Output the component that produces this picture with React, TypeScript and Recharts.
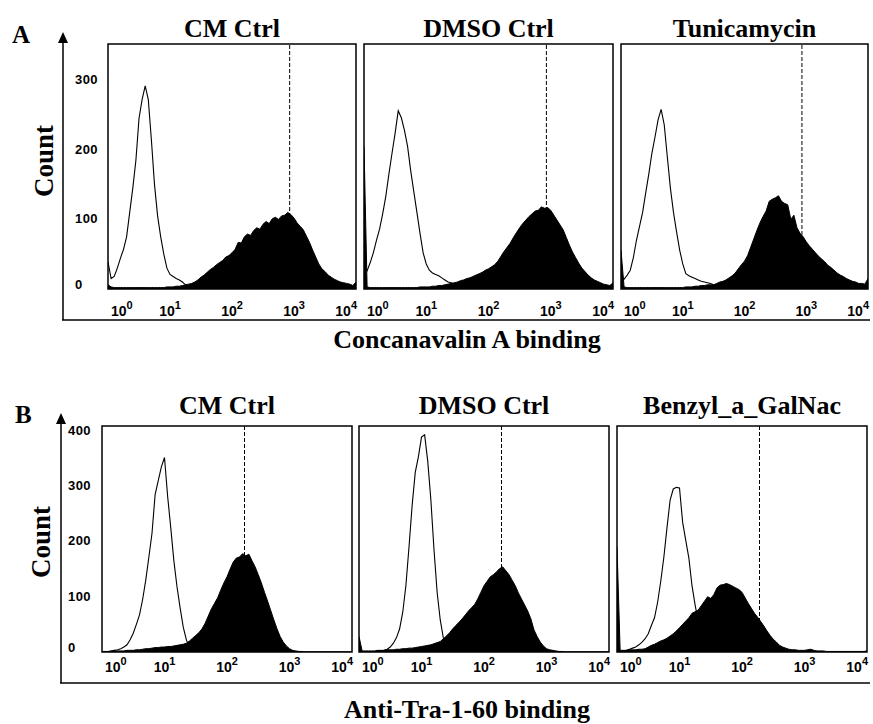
import React from 'react';
import { ComposedChart, Area, Line, XAxis, YAxis, ReferenceLine, ReferenceArea } from 'recharts';

// channel grid: log10 of fluorescence, 0.05 decade steps from 10^0 to 10^4
const LOG_X = Array.from({ length: 81 }, (_, i) => Math.round(i * 5) / 100);
const X_TICKS = [0, 1, 2, 3, 4];
const Y_TICKS_A = [0, 100, 200, 300];
const Y_TICKS_B = [0, 100, 200, 300, 400];

const TITLES_A = ['CM Ctrl', 'DMSO Ctrl', 'Tunicamycin'];
const TITLES_B = ['CM Ctrl', 'DMSO Ctrl', 'Benzyl_a_GalNac'];

// reference lines (log10 of the control MFI)
const MARKER_A = 2.93;
const MARKER_B = 2.28;

// ---- A: Concanavalin A binding ----
const conA_cm_open = [
  39, 15, 18, 30, 44, 57, 75, 110, 145, 185,
  245, 272, 292, 272, 214, 150, 105, 75, 50, 30,
  21, 18, 15, 13, 10, 6, 4, 2, 1, 1,
  0, 0, 0, 0, 0, 0, 0, 0, 0, 0,
  0, 0, 0, 0, 0, 0, 0, 0, 0, 0,
  0, 0, 0, 0, 0, 0, 0, 0, 0, 0,
  0, 0, 0, 0, 0, 0, 0, 0, 0, 0,
  0, 0, 0, 0, 0, 0, 0, 0, 0, 0,
  0,
];
const conA_cm_fill = [
  6, 3, 2, 2, 2, 2, 2, 2, 2, 2,
  2, 2, 2, 2, 2, 2, 2, 2, 2, 3,
  3, 3, 4, 4, 5, 6, 7, 8, 10, 13,
  17, 20, 24, 28, 31, 35, 38, 41, 46, 48,
  52, 57, 67, 66, 75, 79, 77, 84, 88, 86,
  93, 97, 94, 101, 103, 100, 105, 106, 110, 107,
  102, 95, 90, 85, 76, 67, 56, 46, 36, 29,
  25, 20, 17, 14, 12, 10, 9, 8, 7, 5,
  10,
];
const conA_dmso_open = [
  30, 26, 38, 52, 70, 86, 108, 133, 165, 195,
  224, 256, 246, 228, 205, 170, 140, 110, 80, 52,
  36, 27, 23, 21, 19, 16, 13, 10, 9, 7,
  4, 2, 1, 0, 0, 0, 0, 0, 0, 0,
  0, 0, 0, 0, 0, 0, 0, 0, 0, 0,
  0, 0, 0, 0, 0, 0, 0, 0, 0, 0,
  0, 0, 0, 0, 0, 0, 0, 0, 0, 0,
  0, 0, 0, 0, 0, 0, 0, 0, 0, 0,
  0,
];
const conA_dmso_fill = [
  205, 3, 2, 2, 2, 2, 2, 2, 2, 2,
  2, 2, 2, 2, 2, 2, 2, 2, 3, 3,
  3, 3, 4, 4, 5, 5, 6, 7, 8, 9,
  10, 12, 13, 15, 16, 18, 20, 22, 24, 27,
  29, 32, 35, 40, 47, 54, 60, 66, 74, 81,
  88, 94, 99, 104, 108, 112, 113, 118, 116, 117,
  113, 106, 99, 92, 85, 74, 63, 53, 45, 37,
  30, 25, 20, 16, 13, 11, 9, 7, 6, 5,
  9,
];
const conA_tuni_open = [
  18, 14, 20, 27, 45, 70, 90, 110, 138, 165,
  195, 218, 243, 258, 236, 190, 145, 110, 82, 56,
  36, 22, 19, 17, 15, 13, 11, 10, 9, 8,
  6, 4, 2, 1, 0, 0, 0, 0, 0, 0,
  0, 0, 0, 0, 0, 0, 0, 0, 0, 0,
  0, 0, 0, 0, 0, 0, 0, 0, 0, 0,
  0, 0, 0, 0, 0, 0, 0, 0, 0, 0,
  0, 0, 0, 0, 0, 0, 0, 0, 0, 0,
  0,
];
const conA_tuni_fill = [
  56, 3, 2, 2, 2, 2, 2, 2, 2, 2,
  2, 2, 2, 2, 2, 2, 2, 2, 2, 2,
  2, 3, 3, 3, 4, 4, 5, 5, 6, 6,
  6, 8, 10, 11, 13, 16, 19, 23, 29, 35,
  40, 48, 60, 72, 84, 95, 104, 112, 126, 129,
  131, 134, 126, 123, 121, 100, 106, 88, 80, 75,
  68, 62, 57, 52, 47, 43, 39, 34, 31, 27,
  23, 20, 18, 15, 13, 11, 10, 8, 8, 7,
  15,
];

// ---- B: Anti-Tra-1-60 binding ----
const tra_cm_open = [
  0, 0, 1, 2, 3, 4, 6, 9, 13, 22,
  34, 50, 67, 95, 130, 172, 215, 285, 310, 335,
  352, 282, 225, 165, 118, 80, 45, 22, 8, 2,
  0, 0, 0, 0, 0, 0, 0, 0, 0, 0,
  0, 0, 0, 0, 0, 0, 0, 0, 0, 0,
  0, 0, 0, 0, 0, 0, 0, 0, 0, 0,
  0, 0, 0, 0, 0, 0, 0, 0, 0, 0,
  0, 0, 0, 0, 0, 0, 0, 0, 0, 0,
  0,
];
const tra_cm_fill = [
  1, 1, 1, 1, 2, 2, 2, 2, 3, 3,
  3, 4, 4, 5, 6, 6, 7, 8, 8, 9,
  9, 10, 10, 11, 12, 13, 14, 16, 20, 25,
  30, 35, 42, 52, 65, 78, 88, 98, 112, 125,
  136, 150, 163, 170, 172, 178, 174, 177, 165, 154,
  140, 125, 108, 92, 75, 58, 42, 28, 18, 11,
  6, 3, 2, 1, 1, 0, 0, 0, 0, 0,
  0, 0, 0, 0, 0, 0, 0, 0, 0, 0,
  0,
];
const tra_dmso_open = [
  0, 0, 0, 0, 1, 1, 2, 2, 3, 5,
  9, 16, 26, 42, 72, 120, 190, 265, 325, 353,
  389, 393, 345, 275, 185, 108, 58, 25, 10, 3,
  0, 0, 0, 0, 0, 0, 0, 0, 0, 0,
  0, 0, 0, 0, 0, 0, 0, 0, 0, 0,
  0, 0, 0, 0, 0, 0, 0, 0, 0, 0,
  0, 0, 0, 0, 0, 0, 0, 0, 0, 0,
  0, 0, 0, 0, 0, 0, 0, 0, 0, 0,
  0,
];
const tra_dmso_fill = [
  28, 2, 2, 2, 2, 2, 3, 3, 3, 4,
  4, 4, 5, 5, 6, 6, 7, 7, 8, 9,
  10, 11, 12, 13, 15, 17, 19, 24, 29, 35,
  42, 48, 54, 60, 67, 74, 80, 86, 96, 108,
  120, 128, 136, 140, 145, 151, 154, 147, 140, 130,
  120, 107, 96, 85, 74, 60, 40, 28, 18, 11,
  6, 4, 3, 2, 1, 1, 0, 0, 0, 0,
  0, 0, 0, 0, 0, 0, 0, 0, 0, 0,
  0,
];
const tra_benzyl_open = [
  0, 1, 2, 3, 5, 7, 9, 13, 18, 24,
  33, 48, 62, 90, 128, 172, 225, 275, 295, 298,
  297, 235, 202, 170, 120, 85, 55, 30, 15, 7,
  3, 1, 0, 0, 0, 0, 0, 0, 0, 0,
  0, 0, 0, 0, 0, 0, 0, 0, 0, 0,
  0, 0, 0, 0, 0, 0, 0, 0, 0, 0,
  0, 0, 0, 0, 0, 0, 0, 0, 0, 0,
  0, 0, 0, 0, 0, 0, 0, 0, 0, 0,
  0,
];
const tra_benzyl_fill = [
  190, 3, 3, 3, 4, 4, 4, 5, 5, 6,
  9, 12, 14, 17, 20, 22, 25, 29, 33, 38,
  44, 50, 56, 62, 70, 73, 76, 84, 92, 100,
  97, 104, 116, 121, 122, 124, 122, 119, 116, 113,
  108, 98, 88, 79, 70, 63, 55, 47, 38, 30,
  23, 18, 12, 9, 7, 5, 4, 4, 3, 3,
  3, 4, 5, 3, 2, 2, 2, 1, 1, 1,
  1, 1, 1, 1, 1, 1, 1, 1, 1, 1,
  2,
];

const SERIF = '"Liberation Serif", "Times New Roman", serif';
const SANS = '"Liberation Sans", Arial, sans-serif';

const toRows = (open: number[], filled: number[]) =>
  LOG_X.map((x, i) => ({ x, open: open[i], filled: filled[i] }));

const DecadeTick = (props: any) => {
  const { x, y, payload, dy } = props;
  const v = payload.value;
  const anchor = v === 0 ? 'start' : v === 4 ? 'end' : 'middle';
  const shift = v === 0 ? 3 : v === 4 ? 1 : 0;
  return (
    <text x={x + shift} y={y + dy} textAnchor={anchor} fontFamily={SANS} fontWeight="bold" fontSize={14} fill="#000">
      10
      <tspan dy={-7} fontSize={11}>{v}</tspan>
    </text>
  );
};

const CountTick = (props: any) => {
  const { x, y, payload, offset } = props;
  const lift = payload.value === 0 ? -4 : 0;
  return (
    <text x={x - offset} y={y + 4 + lift} textAnchor="start" fontFamily={SANS} fontWeight="bold" fontSize={13} letterSpacing={0.4} fill="#000">
      {payload.value}
    </text>
  );
};

type PanelProps = {
  left: number;
  top: number;
  width: number;
  height: number;
  yMax: number;
  yTicks: number[];
  open: number[];
  filled: number[];
  marker: number;
  withAxis?: boolean;
  tickDy: number;
  labelOffset?: number;
};

const AXIS_W = 40;
const AXIS_H = 34;

function Histogram({ left, top, width, height, yMax, yTicks, open, filled, marker, withAxis, tickDy, labelOffset = 33 }: PanelProps) {
  const yw = withAxis ? AXIS_W : 0;
  return (
    <div style={{ position: 'absolute', left: left - 2 - yw, top: top - 2 }}>
      <ComposedChart
        width={width + 4 + yw}
        height={height + 2 + AXIS_H}
        data={toRows(open, filled)}
        margin={{ top: 2, right: 2, bottom: 0, left: 2 }}
      >
        <XAxis
          dataKey="x"
          type="number"
          domain={[0, 4]}
          ticks={X_TICKS}
          interval={0}
          allowDataOverflow
          axisLine={false}
          tickLine={false}
          tickSize={0}
          tickMargin={0}
          height={AXIS_H}
          tick={(p: any) => <DecadeTick {...p} dy={tickDy} />}
        />
        <YAxis
          type="number"
          domain={[0, yMax]}
          ticks={yTicks}
          interval={0}
          allowDataOverflow
          hide={!withAxis}
          width={yw}
          axisLine={false}
          tickLine={false}
          tickSize={0}
          tickMargin={0}
          tick={(p: any) => <CountTick {...p} offset={labelOffset} />}
        />
        <ReferenceLine x={marker} stroke="#000" strokeWidth={1} strokeDasharray="4 2" />
        <Area
          type="linear"
          dataKey="filled"
          stroke="#000"
          strokeWidth={1}
          fill="#000"
          fillOpacity={1}
          dot={false}
          activeDot={false}
          isAnimationActive={false}
        />
        <Line
          type="linear"
          dataKey="open"
          stroke="#000"
          strokeWidth={1.1}
          dot={false}
          activeDot={false}
          isAnimationActive={false}
        />
        <ReferenceArea x1={0} x2={4} y1={0} y2={yMax} fill="none" stroke="#000" strokeWidth={1.5} ifOverflow="visible" />
      </ComposedChart>
    </div>
  );
}

// frame boxes [left, right] of each row
const FRAMES_A = [[108, 356], [364, 613], [621, 868]];
const FRAMES_B = [[102, 352], [359, 609], [617, 867]];

export default function App() {
  const aOpen = [conA_cm_open, conA_dmso_open, conA_tuni_open];
  const aFill = [conA_cm_fill, conA_dmso_fill, conA_tuni_fill];
  const bOpen = [tra_cm_open, tra_dmso_open, tra_benzyl_open];
  const bFill = [tra_cm_fill, tra_dmso_fill, tra_benzyl_fill];

  return (
    <div style={{ position: 'absolute', left: 0, top: 0, width: 873, height: 724, background: '#fff' }}>
      {FRAMES_A.map(([l, r], i) => (
        <Histogram
          key={'a' + i}
          left={l}
          top={44}
          width={r - l}
          height={245}
          yMax={352}
          yTicks={Y_TICKS_A}
          open={aOpen[i]}
          filled={aFill[i]}
          marker={MARKER_A}
          withAxis={i === 0}
          tickDy={27}
          labelOffset={33}
        />
      ))}
      {FRAMES_B.map(([l, r], i) => (
        <Histogram
          key={'b' + i}
          left={l}
          top={426}
          width={r - l}
          height={226}
          yMax={409}
          yTicks={Y_TICKS_B}
          open={bOpen[i]}
          filled={bFill[i]}
          marker={MARKER_B}
          withAxis={i === 0}
          tickDy={20}
          labelOffset={34}
        />
      ))}
      <svg width={873} height={724} style={{ position: 'absolute', left: 0, top: 0, pointerEvents: 'none' }}>
        {/* row A axes */}
        <line x1={63} y1={40} x2={63} y2={320} stroke="#000" strokeWidth={1.5} />
        <polygon points="63,32 58,43 68,43" fill="#000" />
        <line x1={62} y1={320} x2={870} y2={320} stroke="#000" strokeWidth={1.5} />
        {/* row B axes */}
        <line x1={61} y1={420} x2={61} y2={683} stroke="#000" strokeWidth={1.5} />
        <polygon points="61,413 56,424 66,424" fill="#000" />
        <line x1={60} y1={683} x2={870} y2={683} stroke="#000" strokeWidth={1.5} />

        <g fontFamily={SERIF} fontWeight="bold" fill="#000">
          <text x={12} y={43} fontSize={25}>A</text>
          <text x={15} y={423} fontSize={25}>B</text>
          {FRAMES_A.map(([l, r], i) => (
            <text key={'ta' + i} x={(l + r) / 2} y={37} fontSize={26} textAnchor="middle">{TITLES_A[i]}</text>
          ))}
          {FRAMES_B.map(([l, r], i) => (
            <text key={'tb' + i} x={(l + r) / 2} y={414} fontSize={26} textAnchor="middle">{TITLES_B[i]}</text>
          ))}
          <text x={53} y={161} fontSize={27} textAnchor="middle" transform="rotate(-90 53 161)">Count</text>
          <text x={50} y={542} fontSize={27} textAnchor="middle" transform="rotate(-90 50 542)">Count</text>
          <text x={467} y={348} fontSize={26} textAnchor="middle">Concanavalin A binding</text>
          <text x={467} y={718} fontSize={26} textAnchor="middle">Anti-Tra-1-60 binding</text>
        </g>
      </svg>
    </div>
  );
}
